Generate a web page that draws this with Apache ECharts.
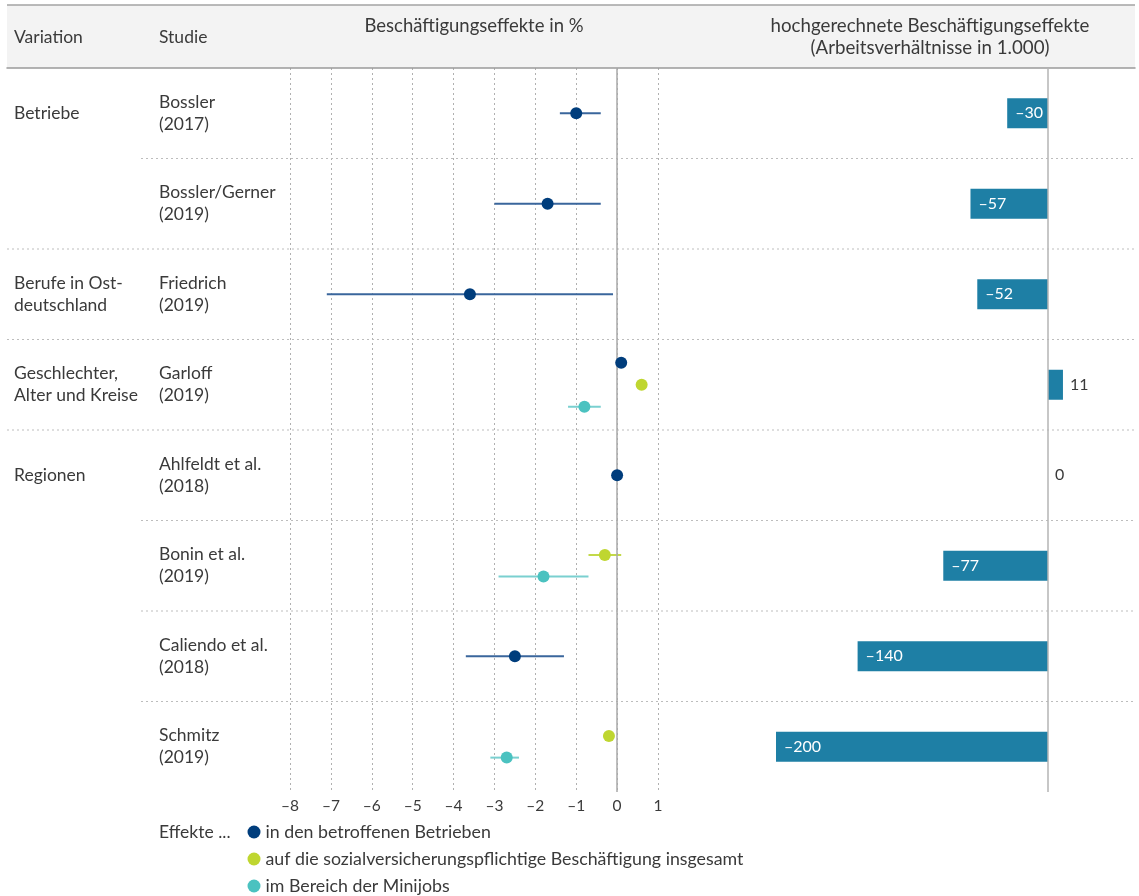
<!DOCTYPE html>
<html><head><meta charset="utf-8">
<script src="https://cdn.jsdelivr.net/npm/echarts@6/dist/echarts.min.js"></script>
<style>html,body{margin:0;padding:0;background:#fff}#c{width:1139px;height:896px}</style>
</head><body><div id="c"></div><script>
// ---- data ----
const variations = ['Betriebe', 'Betriebe', 'Berufe in Ost-\ndeutschland', 'Geschlechter,\nAlter und Kreise', 'Regionen', 'Regionen', 'Regionen', 'Regionen'];
const studies = ['Bossler\n(2017)', 'Bossler/Gerner\n(2019)', 'Friedrich\n(2019)', 'Garloff\n(2019)', 'Ahlfeldt et al.\n(2018)', 'Bonin et al.\n(2019)', 'Caliendo et al.\n(2018)', 'Schmitz\n(2019)'];
const seriesNames = ['in den betroffenen Betrieben', 'auf die sozialversicherungspflichtige Beschäftigung insgesamt', 'im Bereich der Minijobs'];
const betriebe     = [-1.0, -1.7, -3.6, 0.1, 0.0, null, -2.5, null];
const betriebeLow  = [-1.4, -3.0, -7.1, null, null, null, -3.7, null];
const betriebeHigh = [-0.4, -0.4, -0.1, null, null, null, -1.3, null];
const svGesamt     = [null, null, null, 0.6, null, -0.3, null, -0.2];
const svLow        = [null, null, null, null, null, -0.7, null, null];
const svHigh       = [null, null, null, null, null, 0.1, null, null];
const minijobs     = [null, null, null, -0.8, null, -1.8, null, -2.7];
const miniLow      = [null, null, null, -1.2, null, -2.9, null, -3.1];
const miniHigh     = [null, null, null, -0.4, null, -0.7, null, -2.4];
const hochgerechnet = [-30, -57, -52, 11, 0, -77, -140, -200];
const xTicks = [-8, -7, -6, -5, -4, -3, -2, -1, 0, 1];

// ---- styling ----
const FONT = 'Lato';
const FS = 17.5;
const TXT = '#3a3a3a';
const pointColors = ['#003d7c', '#bfd630', '#4bc2c0'];
const ciColors = ['#3a669c', '#c3d94a', '#7ad0d0'];
const barColor = '#1e7fa5';

const vals = [betriebe, svGesamt, minijobs];
const lows = [betriebeLow, svLow, miniLow];
const highs = [betriebeHigh, svHigh, miniHigh];

// vertical positions within a row
const spread = {1: [0], 2: [-0.12, 0.12], 3: [-0.243, 0, 0.243]};
const yPos = vals.map(() => []);
studies.forEach((s, i) => {
  const present = [0, 1, 2].filter(k => vals[k][i] !== null);
  present.forEach((k, j) => { yPos[k][i] = i + spread[present.length][j]; });
});

const scatterSeries = [0, 1, 2].map(k => ({
  name: seriesNames[k], type: 'scatter', xAxisIndex: 0, yAxisIndex: 0,
  symbolSize: 12, z: 5,
  itemStyle: {color: pointColors[k], opacity: 1},
  data: vals[k].map((v, i) => v === null ? null : [v, yPos[k][i]]).filter(d => d),
  markLine: k === 0 ? {silent: true, symbol: 'none', label: {show: false},
    lineStyle: {color: '#a8a8a8', type: 'solid', width: 1.5}, data: [{xAxis: 0}]} : undefined
}));

const ciSeries = [0, 1, 2].map(k => ({
  type: 'custom', xAxisIndex: 0, yAxisIndex: 0, z: 3,
  encode: {x: [0, 1], y: 2},
  data: lows[k].map((l, i) => l === null ? null : [l, highs[k][i], yPos[k][i]]).filter(d => d),
  renderItem: (params, api) => {
    const p1 = api.coord([api.value(0), api.value(2)]);
    const p2 = api.coord([api.value(1), api.value(2)]);
    return {type: 'line', shape: {x1: p1[0], y1: p1[1], x2: p2[0], y2: p2[1]},
      style: {stroke: ciColors[k], lineWidth: 2}};
  }
}));

// separators between rows
const sepData = [];
for (let k = 1; k < studies.length; k++) sepData.push([k, variations[k] === variations[k - 1] ? 1 : 0]);
const sepSeries = {
  type: 'custom', xAxisIndex: 2, yAxisIndex: 4, z: 1, silent: true,
  data: sepData,
  renderItem: (params, api) => {
    const cs = params.coordSys;
    const y = api.coord([0, api.value(0)])[1];
    const x1 = api.value(1) ? 141 : cs.x;
    return {type: 'line', shape: {x1: x1, y1: y, x2: cs.x + cs.width, y2: y},
      style: {stroke: '#bdbdbd', lineWidth: 1, lineDash: [2, 3]}};
  }
};

const barSeries = {
  type: 'bar', xAxisIndex: 1, yAxisIndex: 3, barWidth: 30, z: 2,
  itemStyle: {color: barColor},
  data: hochgerechnet.map(v => ({
    value: v,
    label: v < 0 ? {position: 'insideLeft', distance: 8, color: '#ffffff'}
                 : {position: 'right', distance: 7, color: TXT}
  })),
  label: {show: true, fontFamily: FONT, fontSize: 16,
    formatter: p => (p.value < 0 ? '\u2013' + Math.abs(p.value) : String(p.value))},
  markLine: {silent: true, symbol: 'none', label: {show: false},
    lineStyle: {color: '#b5b5b5', type: 'solid', width: 1.5}, data: [{xAxis: 0}]}
};

const variationLabels = variations.map((v, i) => (i > 0 && variations[i - 1] === v) ? '' : v);

const hiddenAxis = {axisLine: {show: false}, axisTick: {show: false}, axisLabel: {show: false}, splitLine: {show: false}};

const option = {
  animation: false,
  backgroundColor: '#ffffff',
  textStyle: {fontFamily: FONT},
  graphic: [
    {type: 'rect', z: -10, shape: {x: 7, y: 5, width: 1128, height: 63}, style: {fill: '#f3f3f3'}},
    {type: 'line', z: -9, shape: {x1: 7, y1: 5, x2: 1135, y2: 5}, style: {stroke: '#a3a3a3', lineWidth: 1.5}},
    {type: 'text', x: 14, y: 37, style: {text: 'Variation', font: FS + 'px ' + FONT, fill: TXT, textVerticalAlign: 'middle'}},
    {type: 'text', x: 159, y: 37, style: {text: 'Studie', font: FS + 'px ' + FONT, fill: TXT, textVerticalAlign: 'middle'}},
    {type: 'text', x: 474, y: 26, style: {text: 'Beschäftigungseffekte in %', font: '18.5px ' + FONT, fill: TXT, textAlign: 'center', textVerticalAlign: 'middle'}},
    {type: 'text', x: 930, y: 37, style: {text: 'hochgerechnete Beschäftigungseffekte\n(Arbeitsverhältnisse in 1.000)', font: '18.7px ' + FONT, lineHeight: 22, fill: TXT, textAlign: 'center', textVerticalAlign: 'middle'}},
    {type: 'text', x: 159, y: 832, style: {text: 'Effekte ...', font: FS + 'px ' + FONT, fill: TXT, textVerticalAlign: 'middle'}}
  ],
  legend: {
    orient: 'vertical', left: 247.5, top: 822, padding: 0, height: 74,
    itemWidth: 13, itemHeight: 13, itemGap: 7, itemTextGap: 8,
    icon: 'circle', data: seriesNames,
    textStyle: {fontFamily: FONT, fontSize: 17.8, color: TXT, lineHeight: 20}
  },
  grid: [
    {left: 290, right: 481, top: 68, bottom: 104},
    {left: 776, right: 9.4, top: 68, bottom: 104},
    {left: 7, right: 4, top: 68, bottom: 104}
  ],
  xAxis: [
    {type: 'value', gridIndex: 0, min: -8, max: 1, interval: 1,
      axisLine: {show: false}, axisTick: {show: false},
      splitLine: {show: true, lineStyle: {color: '#b0b0b0', type: [2, 3], width: 1}},
      axisLabel: {color: TXT, fontSize: 15.5, fontFamily: FONT, margin: 6,
        formatter: v => xTicks.includes(v) ? (v < 0 ? '\u2013' + Math.abs(v) : String(v)) : ''}},
    Object.assign({type: 'value', gridIndex: 1, min: -200, max: 60}, hiddenAxis),
    {type: 'value', gridIndex: 2, min: 0, max: 1, position: 'bottom',
      axisLine: {show: true, lineStyle: {color: '#9a9a9a', width: 1.5}}, axisTick: {show: false},
      axisLabel: {show: false}, splitLine: {show: false}}
  ],
  yAxis: [
    Object.assign({type: 'value', gridIndex: 0, position: 'left', min: -0.5, max: studies.length - 0.5, inverse: true}, hiddenAxis),
    {type: 'category', gridIndex: 0, position: 'left', offset: 0, inverse: true, data: studies,
      axisLine: {show: false}, axisTick: {show: false}, splitLine: {show: false},
      axisLabel: {align: 'left', margin: 131, interval: 0, color: TXT, fontSize: FS, fontFamily: FONT, lineHeight: 22}},
    {type: 'category', gridIndex: 0, position: 'left', offset: 0, inverse: true, data: variationLabels,
      axisLine: {show: false}, axisTick: {show: false}, splitLine: {show: false},
      axisLabel: {align: 'left', margin: 276, interval: 0, color: TXT, fontSize: FS, fontFamily: FONT, lineHeight: 22}},
    Object.assign({type: 'category', gridIndex: 1, inverse: true, data: studies}, hiddenAxis),
    Object.assign({type: 'value', gridIndex: 2, min: 0, max: studies.length, inverse: true}, hiddenAxis)
  ],
  series: [sepSeries, ...ciSeries, ...scatterSeries, barSeries]
};

const chart = echarts.init(document.getElementById('c'));
chart.setOption(option);
</script></body></html>
